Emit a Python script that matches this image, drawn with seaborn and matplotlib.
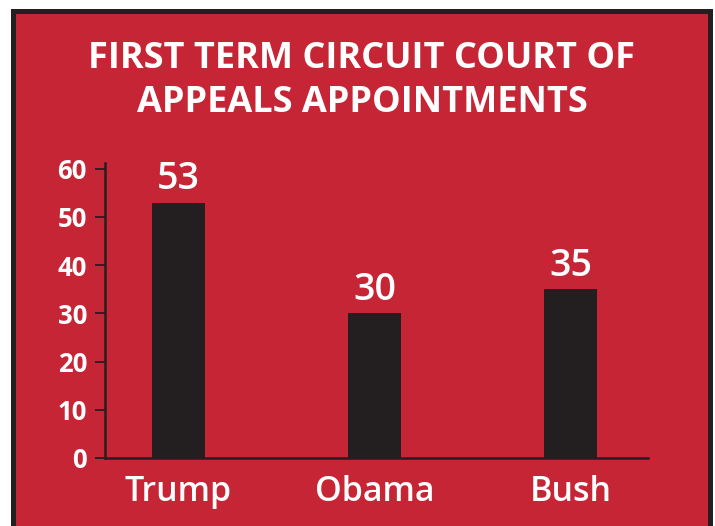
import matplotlib
matplotlib.use("Agg")
import matplotlib.pyplot as plt
import seaborn as sns
import pandas as pd
from matplotlib.patches import Rectangle

categories = ["Trump", "Obama", "Bush"]
values = [53, 30, 35]
yticks = [0, 10, 20, 30, 40, 50, 60]
title = "FIRST TERM CIRCUIT COURT OF\nAPPEALS APPOINTMENTS"

RED = "#C62535"
DARK = "#231F20"
FONT = ["Open Sans", "DejaVu Sans"]

sns.set_theme(style="white")
plt.rcParams["font.family"] = FONT

W, H = 715, 526
fig = plt.figure(figsize=(W / 100, H / 100), dpi=100)
fig.patch.set_facecolor("white")

# framed red panel
fig.patches.append(Rectangle((12.5 / W, -10 / H), (710 - 12.5) / W, (H - 10.5 + 10) / H,
                             transform=fig.transFigure, facecolor=RED,
                             edgecolor=DARK, linewidth=3.6, zorder=-10))

ax = fig.add_axes([105 / W, 68 / H, (648 - 105) / W, (363 - 68) / H])
ax.set_zorder(5)
ax.set_facecolor("none")
df = pd.DataFrame({"who": categories, "n": values})
sns.barplot(data=df, x="who", y="n", color=DARK, saturation=1, width=0.27,
            edgecolor=DARK, linewidth=0, ax=ax)

ax.set_xlim(-0.375, 2.395)
ax.set_ylim(0, 61.2)
ax.set_yticks(yticks)
ax.set_xlabel("")
ax.set_ylabel("")
for s in ["top", "right"]:
    ax.spines[s].set_visible(False)
for s in ["left", "bottom"]:
    ax.spines[s].set_color(DARK)
    ax.spines[s].set_linewidth(1.8)
ax.tick_params(axis="y", left=True, length=7, width=1.3, color=DARK, pad=6,
               labelsize=18.5, labelcolor="white")
ax.tick_params(axis="x", bottom=False, labelsize=24.5, labelcolor="white", pad=6)
for lab in ax.get_yticklabels():
    lab.set_fontweight("bold")
for lab in ax.get_xticklabels():
    lab.set_fontweight("semibold")

for i, v in enumerate(values):
    ax.annotate(str(v), (i, v), xytext=(0, 3), textcoords="offset points",
                ha="center", va="bottom", color="white", fontsize=27,
                fontweight="semibold")

fig.text(362 / W, 1 - 81 / H, title, ha="center", va="center", color="white",
         fontsize=26, fontweight="bold", linespacing=1.3)

fig.savefig("out.png", dpi=100)
